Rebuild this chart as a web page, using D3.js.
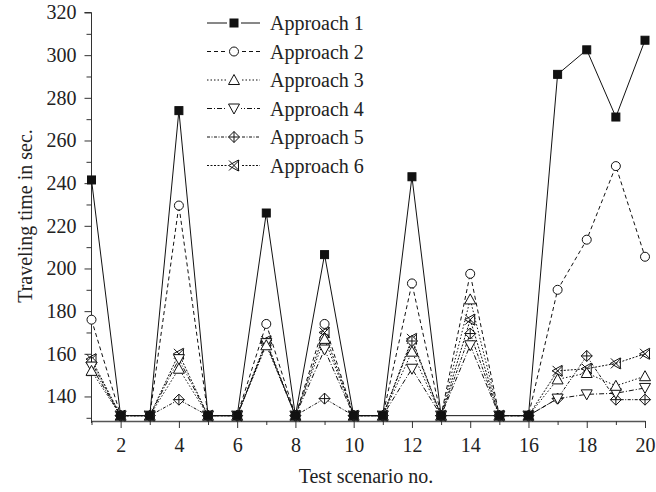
<!DOCTYPE html>
<html>
<head>
<meta charset="utf-8">
<script src="https://cdn.jsdelivr.net/npm/d3@7"></script>
<style>
  body { margin: 0; background: #fff; }
  svg { display: block; font-family: "Liberation Serif", "Times New Roman", serif; }
</style>
</head>
<body>
<div id="chart"></div>
<script>
// scenario numbers and travelling times (sec.)
var scenarios = [1, 2, 3, 4, 5, 6, 7, 8, 9, 10, 11, 12, 13, 14, 15, 16, 17, 18, 19, 20];
var approach1 = [241.5, 131, 131, 274, 131, 131, 226, 131, 206.5, 131, 131, 243, 131, null, 131, 131, 291, 302.5, 271, 307];
var approach2 = [176, 131, 131, 229.5, 131, 131, 174, 131, 174, 131, 131, 193, 131, 197.5, 131, 131, 190, 213.5, 248, 205.5];
var approach3 = [152, 131, 131, 153, 131, 131, 164, 131, 167, 131, 131, 161, 131, 185.5, 131, 131, 148, 151, 145, 149.5];
var approach4 = [154, 131, 131, 157.5, 131, 131, 165, 131, 162, 131, 131, 153, 131, 164, 131, 131, 139, 141, 141.5, 144];
var approach5 = [156, 131, 131, 138.5, 131, 131, 165, 131, 139, 131, 131, 166, 131, 169.5, 131, 131, 139, 159, 138.5, 138.5];
var approach6 = [157.5, 131, 131, 160, 131, 131, 166, 131, 170, 131, 131, 167, 131, 176, 131, 131, 152, 153, 155.5, 160];
var seriesNames = ["Approach 1", "Approach 2", "Approach 3", "Approach 4", "Approach 5", "Approach 6"];
var yMajorTicks = [140, 160, 180, 200, 220, 240, 260, 280, 300, 320];
var yMinorTicks = [130, 150, 170, 190, 210, 230, 250, 270, 290, 310];
var xMajorTicks = [2, 4, 6, 8, 10, 12, 14, 16, 18, 20];
var xMinorTicks = [1, 3, 5, 7, 9, 11, 13, 15, 17, 19];

var allSeries = [approach1, approach2, approach3, approach4, approach5, approach6];
var dashes = ["none", "4,3", "1.5,2", "5,2,1,2", "3,1.5,1,1.5", "2,1.5"];
var shapes = ["square", "circle", "triangle", "down", "diamond", "cross"];

var width = 656, height = 492;
var svg = d3.select("#chart").append("svg")
    .attr("width", width)
    .attr("height", height);

var x = d3.scaleLinear().domain([1, 20]).range([91.5, 645]);
var y = d3.scaleLinear().domain([128.5, 320]).range([421, 12.5]);

// axes
var yAxis = svg.append("g").attr("transform", "translate(91.5,0)")
    .call(d3.axisLeft(y).tickValues(yMajorTicks).tickSize(7).tickPadding(8).tickSizeOuter(0));
svg.append("g").attr("transform", "translate(91.5,0)")
    .call(d3.axisLeft(y).tickValues(yMinorTicks).tickSize(5).tickFormat("").tickSizeOuter(0))
    .select(".domain").remove();
var xAxis = svg.append("g").attr("transform", "translate(0,421)")
    .call(d3.axisBottom(x).tickValues(xMajorTicks).tickSize(7).tickPadding(10).tickSizeOuter(0));
svg.append("g").attr("transform", "translate(0,421)")
    .call(d3.axisBottom(x).tickValues(xMinorTicks).tickSize(4).tickFormat("").tickSizeOuter(0))
    .select(".domain").remove();

svg.selectAll(".tick text")
    .style("font-family", "Liberation Serif, Times New Roman, serif")
    .style("font-size", "20px")
    .attr("fill", "#222");
svg.selectAll(".tick line").attr("stroke", "#333");
yAxis.select(".domain").attr("stroke", "#333").attr("d", "M-7,12.5H0V423");
xAxis.select(".domain").attr("stroke", "#555").attr("stroke-width", 1.6);

// axis titles
svg.append("text")
    .attr("x", 366)
    .attr("y", 483)
    .attr("text-anchor", "middle")
    .style("font-size", "20px")
    .attr("fill", "#222")
    .text("Test scenario no.");
svg.append("text")
    .attr("transform", "translate(32,216) rotate(-90)")
    .attr("text-anchor", "middle")
    .style("font-size", "20px")
    .attr("fill", "#222")
    .text("Traveling time in sec.");

function drawMarker(g, shape) {
    if (shape === "square") {
        g.append("rect").attr("x", -4).attr("y", -4).attr("width", 8).attr("height", 8)
            .attr("fill", "#111").attr("stroke", "#111");
    } else if (shape === "circle") {
        g.append("circle").attr("r", 4.5).attr("fill", "white").attr("stroke", "#111");
    } else if (shape === "triangle") {
        g.append("path").attr("d", "M0,-5.5L5.5,4.5L-5.5,4.5Z").attr("fill", "white").attr("stroke", "#111");
    } else if (shape === "down") {
        g.append("path").attr("d", "M0,5.5L5.5,-4.5L-5.5,-4.5Z").attr("fill", "white").attr("stroke", "#111");
    } else if (shape === "diamond") {
        g.append("path").attr("d", "M0,-5.5L5.5,0L0,5.5L-5.5,0Z").attr("fill", "white").attr("stroke", "#111");
        g.append("path").attr("d", "M0,-5.5V5.5M-5.5,0H5.5").attr("fill", "none").attr("stroke", "#111");
    } else {
        g.append("path").attr("d", "M-5,-5L5,5M-5,5L5,-5M-5.5,0L4.5,-5.5V5.5Z")
            .attr("fill", "none").attr("stroke", "#111");
    }
}

var line = d3.line()
    .x(function(d) { return x(d.s); })
    .y(function(d) { return y(d.v); });

// lines first, markers on top
allSeries.forEach(function(vals, i) {
    var pts = scenarios.map(function(s, j) { return { s: s, v: vals[j] }; })
        .filter(function(d) { return d.v !== null; });
    svg.append("path")
        .datum(pts)
        .attr("fill", "none")
        .attr("stroke", "#111")
        .attr("stroke-width", 1)
        .attr("stroke-dasharray", dashes[i])
        .attr("d", line);
});
for (var i = allSeries.length - 1; i >= 0; i--) {
    var vals = allSeries[i];
    scenarios.forEach(function(s, j) {
        if (vals[j] === null) return;
        var g = svg.append("g").attr("transform", "translate(" + x(s) + "," + y(vals[j]) + ")");
        drawMarker(g, shapes[i]);
    });
}

// legend
var legend = svg.selectAll(".legend")
    .data(seriesNames)
    .enter().append("g")
    .attr("class", "legend")
    .attr("transform", function(d, i) { return "translate(0," + (23 + i * 28.5) + ")"; });
legend.append("line")
    .attr("x1", 207).attr("x2", 260)
    .attr("stroke", "#111")
    .attr("stroke-dasharray", function(d, i) { return dashes[i]; });
legend.each(function(d, i) {
    var g = d3.select(this).append("g").attr("transform", "translate(234,0)");
    g.append("rect").attr("x", -7).attr("y", -7).attr("width", 14).attr("height", 14).attr("fill", "white");
    drawMarker(g, shapes[i]);
});
legend.append("text")
    .attr("x", 270)
    .attr("y", 7)
    .style("font-size", "20px")
    .attr("fill", "#222")
    .text(function(d) { return d; });
</script>
</body>
</html>
